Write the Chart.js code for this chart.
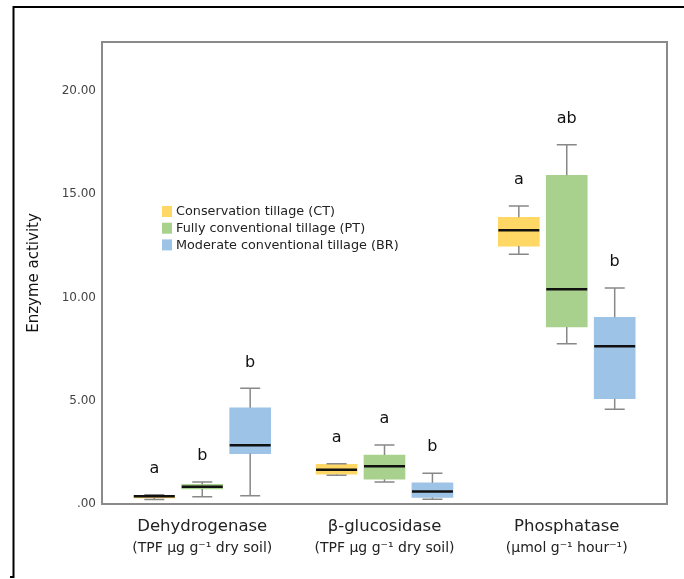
<!DOCTYPE html>
<html><head><meta charset="utf-8">
<script src="https://cdn.jsdelivr.net/npm/chart.js@4.4.1/dist/chart.umd.min.js"></script>
<style>html,body{margin:0;padding:0;background:#fff}#wrap{width:684px;height:579px;position:relative}</style>
</head><body><div id="wrap"><canvas id="c" width="684" height="579"></canvas></div>
<script>
// ---- data ----
const categories = ['Dehydrogenase', 'β-glucosidase', 'Phosphatase'];
const categoryUnits = ['(TPF µg g⁻¹ dry soil)', '(TPF µg g⁻¹ dry soil)', '(µmol g⁻¹ hour⁻¹)'];
const seriesNames = ['Conservation tillage (CT)', 'Fully conventional tillage (PT)', 'Moderate conventional tillage (BR)'];
const yTicks = [0, 5, 10, 15, 20];

const ctMin = [0.22, 1.39, 12.09];
const ctQ1  = [0.30, 1.44, 12.49];
const ctMed = [0.37, 1.66, 13.25];
const ctQ3  = [0.42, 1.92, 13.88];
const ctMax = [0.45, 1.95, 14.43];
const ctLetters = ['a', 'a', 'a'];

const ptMin = [0.35, 1.07, 7.76];
const ptQ1  = [0.73, 1.20, 8.57];
const ptMed = [0.84, 1.83, 10.40];
const ptQ3  = [0.95, 2.37, 15.92];
const ptMax = [1.07, 2.86, 17.40];
const ptLetters = ['b', 'a', 'ab'];

const brMin = [0.40, 0.23, 4.59];
const brQ1  = [2.44, 0.32, 5.10];
const brMed = [2.84, 0.61, 7.64];
const brQ3  = [4.66, 1.03, 9.04];
const brMax = [5.60, 1.49, 10.46];
const brLetters = ['b', 'b', 'b'];

// ---- styling / assembly ----
const colors = ['#FFD764', '#A9D18E', '#9DC3E6'];
const FONT = '"DejaVu Sans", Verdana, sans-serif';
const series = [
  {min: ctMin, q1: ctQ1, med: ctMed, q3: ctQ3, max: ctMax, letters: ctLetters},
  {min: ptMin, q1: ptQ1, med: ptMed, q3: ptQ3, max: ptMax, letters: ptLetters},
  {min: brMin, q1: brQ1, med: brMed, q3: brQ3, max: brMax, letters: brLetters}
];
const groupOffset = [-0.263, 0, 0.263];

const datasets = series.map((s, si) => ({
  label: seriesNames[si],
  backgroundColor: colors[si],
  borderWidth: 0,
  barThickness: 41,
  grouped: false,
  data: categories.map((c, i) => ({x: i + groupOffset[si], y: [s.q1[i], s.q3[i]]}))
}));

const customDraw = {
  id: 'customDraw',
  beforeDraw(chart) {
    const ctx = chart.ctx;
    ctx.save();
    ctx.fillStyle = '#fff';
    ctx.fillRect(0, 0, chart.width, chart.height);
    // outer frame
    ctx.strokeStyle = '#000';
    ctx.lineWidth = 2;
    ctx.beginPath();
    ctx.moveTo(13.5, 578);
    ctx.lineTo(13.5, 7);
    ctx.lineTo(chart.width, 7);
    ctx.stroke();
    ctx.beginPath();
    ctx.moveTo(10, 577);
    ctx.lineTo(13.5, 577);
    ctx.stroke();
    ctx.restore();
  },
  afterDatasetsDraw(chart) {
    const ctx = chart.ctx, xs = chart.scales.x, ys = chart.scales.y, a = chart.chartArea;
    ctx.save();
    series.forEach((s, si) => {
      categories.forEach((c, i) => {
        const cx = xs.getPixelForValue(i + groupOffset[si]);
        const pMin = ys.getPixelForValue(s.min[i]), pQ1 = ys.getPixelForValue(s.q1[i]);
        const pMed = ys.getPixelForValue(s.med[i]), pQ3 = ys.getPixelForValue(s.q3[i]);
        const pMax = ys.getPixelForValue(s.max[i]);
        ctx.strokeStyle = '#888';
        ctx.lineWidth = 1.5;
        ctx.beginPath();
        ctx.moveTo(cx, pQ3); ctx.lineTo(cx, pMax);
        ctx.moveTo(cx, pQ1); ctx.lineTo(cx, pMin);
        ctx.moveTo(cx - 10, pMax); ctx.lineTo(cx + 10, pMax);
        ctx.moveTo(cx - 10, pMin); ctx.lineTo(cx + 10, pMin);
        ctx.stroke();
        ctx.strokeStyle = '#111';
        ctx.lineWidth = 2.5;
        ctx.beginPath();
        ctx.moveTo(cx - 20.5, pMed); ctx.lineTo(cx + 20.5, pMed);
        ctx.stroke();
        ctx.fillStyle = '#111';
        ctx.font = '16px ' + FONT;
        ctx.textAlign = 'center';
        ctx.textBaseline = 'middle';
        ctx.fillText(s.letters[i], cx, pMax - 26);
      });
    });
    // plot border
    ctx.strokeStyle = '#8a8a8a';
    ctx.lineWidth = 2;
    ctx.strokeRect(a.left, a.top, a.right - a.left, a.bottom - a.top);
    // legend
    ctx.font = '12.8px ' + FONT;
    ctx.textAlign = 'left';
    ctx.textBaseline = 'middle';
    seriesNames.forEach((n, si) => {
      const cy = 211.5 + si * 16.7;
      ctx.fillStyle = colors[si];
      ctx.fillRect(162, cy - 5.5, 10, 11);
      ctx.fillStyle = '#222';
      ctx.fillText(n, 176, cy + 0.5);
    });
    // category labels
    ctx.textAlign = 'center';
    categories.forEach((c, i) => {
      const cx = xs.getPixelForValue(i);
      ctx.fillStyle = '#222';
      ctx.font = '16.5px ' + FONT;
      ctx.fillText(c, cx, a.bottom + 23);
      ctx.font = '14px ' + FONT;
      ctx.fillText(categoryUnits[i], cx, a.bottom + 44);
    });
    ctx.restore();
  }
};

new Chart(document.getElementById('c'), {
  type: 'bar',
  data: {datasets},
  options: {
    responsive: false,
    animation: false,
    devicePixelRatio: 1,
    layout: {padding: {top: 42, right: 17, left: 0, bottom: 0}},
    plugins: {legend: {display: false}, tooltip: {enabled: false}},
    scales: {
      x: {
        type: 'linear', min: -0.55, max: 2.55, offset: false,
        ticks: {display: false},
        grid: {display: false, offset: false},
        border: {display: false},
        afterFit: s => { s.height = 75; }
      },
      y: {
        min: 0, max: 22.37,
        afterBuildTicks: s => { s.ticks = yTicks.map(v => ({value: v})); },
        ticks: {
          callback: v => v === 0 ? '.00' : v.toFixed(2),
          font: {family: FONT, size: 12},
          color: '#444',
          padding: 6
        },
        grid: {display: false, drawTicks: false},
        border: {display: false},
        title: {display: true, text: 'Enzyme activity', font: {family: FONT, size: 15}, color: '#111', padding: {top: 25, bottom: 0}},
        afterFit: s => { s.width = 102; }
      }
    }
  },
  plugins: [customDraw]
});
</script>
</body></html>
